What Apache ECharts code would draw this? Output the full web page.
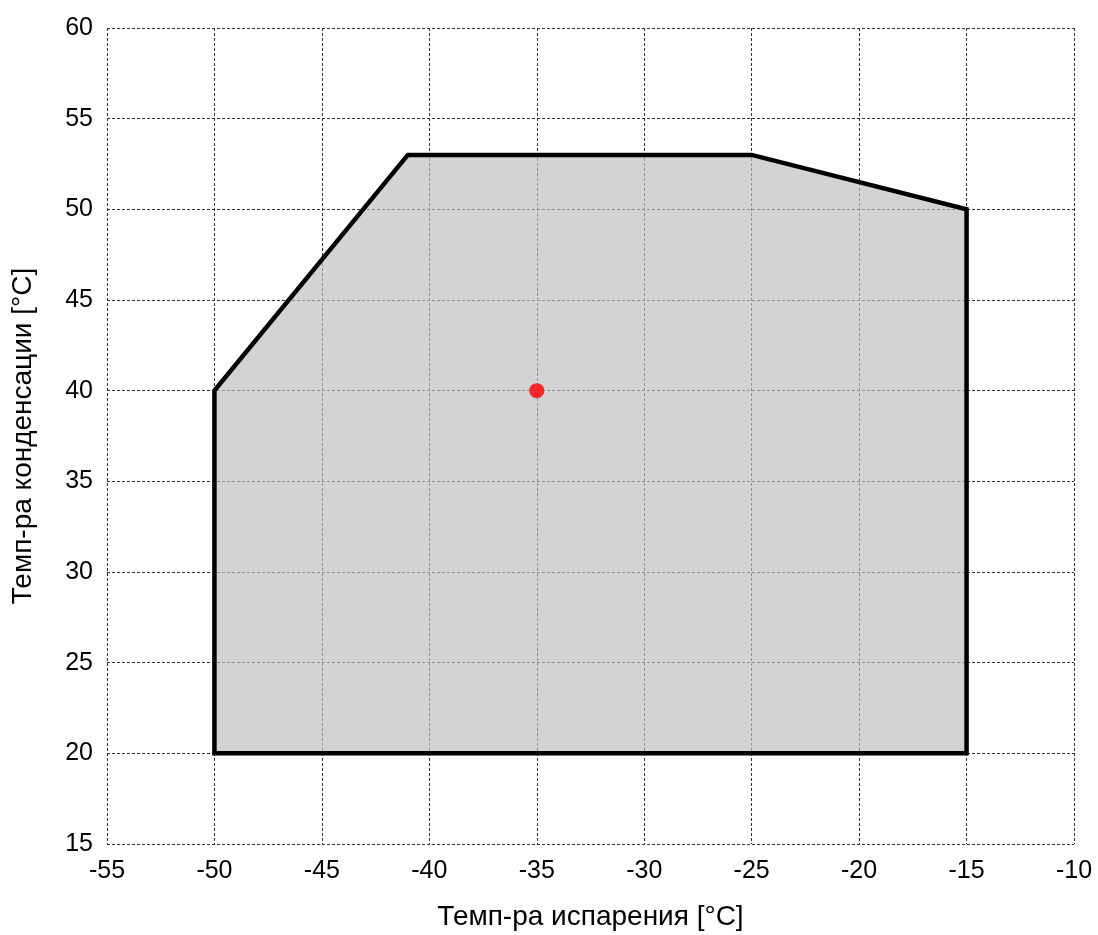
<!DOCTYPE html>
<html>
<head>
<meta charset="utf-8">
<script src="https://cdn.jsdelivr.net/npm/echarts@6/dist/echarts.min.js"></script>
<style>
html,body{margin:0;padding:0;background:#fff;}
#chart{width:1098px;height:935px;}
</style>
</head>
<body>
<div id="chart"></div>
<script>
// Operating envelope vertices [evaporation °C, condensation °C]
const envelopeEvap = [-50, -50, -41, -25, -15, -15];
const envelopeCond = [20, 40, 53, 53, 50, 20];
// Operating point
const pointEvap = [-35];
const pointCond = [40];
const xName = 'Темп-ра испарения [°C]';
const yName = 'Темп-ра конденсации [°C]';

const envelopeData = envelopeEvap.map((x, i) => [x, envelopeCond[i]]);
const pointData = pointEvap.map((x, i) => [x, pointCond[i]]);

const chart = echarts.init(document.getElementById('chart'), null, {renderer: 'canvas'});
const gridLine = {show: true, lineStyle: {color: '#333', width: 1, type: [3, 2]}};
const font = 'Liberation Sans, Arial, sans-serif';
chart.setOption({
  animation: false,
  backgroundColor: '#fff',
  grid: {left: 107, right: 24, top: 28, bottom: 91, containLabel: false, outerBoundsMode: 'none'},
  xAxis: {
    type: 'value', min: -55, max: -10, interval: 5,
    name: xName, nameLocation: 'middle', nameGap: 59,
    nameTextStyle: {fontFamily: font, fontSize: 28, color: '#000'},
    axisLine: {show: false},
    axisTick: {show: false},
    axisLabel: {fontFamily: font, fontSize: 25, color: '#000', margin: 15},
    splitLine: gridLine
  },
  yAxis: {
    type: 'value', min: 15, max: 60, interval: 5,
    name: yName, nameLocation: 'middle', nameGap: 70,
    nameTextStyle: {fontFamily: font, fontSize: 28, color: '#000'},
    axisLine: {show: false},
    axisTick: {show: false},
    axisLabel: {fontFamily: font, fontSize: 25, color: '#000', margin: 14},
    splitLine: gridLine
  },
  series: [
    {
      type: 'custom',
      data: envelopeData,
      z: 1,
      renderItem: function (params, api) {
        if (params.dataIndex !== 0) return null;
        const pts = envelopeData.map(d => api.coord(d));
        return {
          type: 'polygon',
          shape: {points: pts},
          style: {fill: 'rgba(190,190,190,0.68)', stroke: '#000', lineWidth: 4.5, lineJoin: 'miter'}
        };
      }
    },
    {
      type: 'scatter',
      data: pointData,
      symbolSize: 15,
      z: 3,
      itemStyle: {color: '#ff0000'}
    }
  ]
});
</script>
</body>
</html>
